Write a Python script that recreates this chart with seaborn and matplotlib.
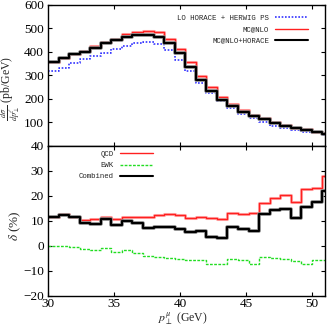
import numpy as np
import pandas as pd
import matplotlib
matplotlib.use('Agg')
import matplotlib.pyplot as plt
import seaborn as sns

# bins of 0.8 GeV starting at 30 GeV
bin_width = 0.8
bin_lo = np.round(30 + bin_width * np.arange(27), 2)

# dsigma/dpT (pb/GeV)
lo_horace = [319, 333, 351, 369, 383, 397, 414, 425, 437, 442, 432, 408, 366, 320,
             269, 226, 191, 160, 135, 118, 101, 86, 77, 67, 58, 53, 46]
mcnlo = [356, 375, 390, 405, 425, 443, 455, 475, 484, 490, 484, 456, 411, 356,
         296, 249, 209, 177, 153, 131, 117, 100, 89, 77, 70, 60, 54]
mcnlo_horace = [356, 374, 390, 401, 418, 439, 449, 463, 472, 472, 462, 437, 394, 337,
                280, 233, 195, 170, 143, 127, 113, 96, 84, 75, 67, 59, 52]

# relative corrections (%)
d_qcd = [11.6, 12.6, 11.6, 10.3, 10.5, 11.6, 10.5, 11.6, 11.3, 11.3, 12.3, 12.7, 12.1, 11.2,
         11.5, 11.1, 10.5, 13.2, 12.7, 13.2, 17.0, 19.0, 20.2, 17.6, 22.7, 23.2, 28.0]
d_ewk = [0.0, -0.1, -0.4, -1.3, -1.6, -1.0, -2.4, -1.9, -2.8, -4.0, -4.7, -5.1, -5.2, -5.7,
         -5.6, -7.5, -7.2, -5.4, -5.9, -7.2, -4.4, -4.9, -5.5, -6.0, -7.2, -5.7, -5.7]
d_comb = [11.6, 12.3, 11.4, 9.2, 8.7, 10.5, 8.3, 9.9, 9.0, 7.1, 7.4, 7.4, 6.8, 5.6,
          6.0, 3.6, 3.2, 7.5, 6.6, 6.0, 12.7, 14.1, 14.5, 11.2, 15.3, 17.6, 22.0]


def steps(vals):
    # histogram outline: edges plus last value repeated
    x = np.append(bin_lo, bin_lo[-1] + bin_width)
    y = np.append(vals, vals[-1])
    return pd.DataFrame({'pt': x, 'val': y})


sns.set_style('ticks')
plt.rcParams['font.family'] = ['Liberation Serif', 'DejaVu Serif']
plt.rcParams['mathtext.fontset'] = 'stix'
plt.rcParams['xtick.direction'] = 'in'
plt.rcParams['ytick.direction'] = 'in'

fig = plt.figure(figsize=(3.27, 3.26), dpi=100)
ax1 = fig.add_axes([0.147, 0.553, 0.847, 0.432])
ax2 = fig.add_axes([0.147, 0.093, 0.847, 0.46])

# top panel
sns.lineplot(data=steps(lo_horace), x='pt', y='val', ax=ax1, drawstyle='steps-post',
             color='#3333ff', lw=1.2, ls=(0, (1, 1)), label='LO HORACE + HERWIG PS')
sns.lineplot(data=steps(mcnlo), x='pt', y='val', ax=ax1, drawstyle='steps-post',
             color='#ffb0b0', lw=2.2, legend=False)
sns.lineplot(data=steps(mcnlo), x='pt', y='val', ax=ax1, drawstyle='steps-post',
             color='#ff2020', lw=1.0, label='MC@NLO')
sns.lineplot(data=steps(mcnlo_horace), x='pt', y='val', ax=ax1, drawstyle='steps-post',
             color='#888888', lw=2.6, legend=False)
sns.lineplot(data=steps(mcnlo_horace), x='pt', y='val', ax=ax1, drawstyle='steps-post',
             color='black', lw=1.5, label='MC@NLO+HORACE')

ax1.set_xlim(30, 51)
ax1.set_ylim(0, 600)
ax1.set_yticks([100, 200, 300, 400, 500, 600])
ax1.set_xticks([35, 40, 45, 50])
ax1.set_xticklabels([])
ax1.set_xlabel('')
ax1.set_ylabel(r'$\frac{d\sigma}{dp_{\perp}^{\ell}}$ (pb/GeV)', fontsize=8.5,
               va='center', ha='center')
ax1.yaxis.set_label_coords(-0.135, 0.41)
ax1.legend(loc='upper right', bbox_to_anchor=(0.95, 0.95), frameon=False, markerfirst=False,
           prop={'family': 'Liberation Mono', 'size': 5.3}, handlelength=4.5,
           labelspacing=0.55, borderaxespad=0, handletextpad=0.8)

# bottom panel
sns.lineplot(data=steps(d_qcd), x='pt', y='val', ax=ax2, drawstyle='steps-post',
             color='#ffb0b0', lw=2.2, legend=False)
sns.lineplot(data=steps(d_qcd), x='pt', y='val', ax=ax2, drawstyle='steps-post',
             color='#ff2020', lw=1.0, label='QCD')
sns.lineplot(data=steps(d_ewk), x='pt', y='val', ax=ax2, drawstyle='steps-post',
             color='#22dd22', lw=1.0, ls=(0, (2, 1)), label='EWK')
sns.lineplot(data=steps(d_comb), x='pt', y='val', ax=ax2, drawstyle='steps-post',
             color='#888888', lw=2.6, legend=False)
sns.lineplot(data=steps(d_comb), x='pt', y='val', ax=ax2, drawstyle='steps-post',
             color='black', lw=1.5, label='Combined')

ax2.set_xlim(30, 51)
ax2.set_ylim(-20, 40)
ax2.set_yticks([-20, -10, 0, 10, 20, 30, 40])
ax2.set_xticks([30, 35, 40, 45, 50])
ax2.set_xlabel(r'$p_{\perp}^{\mu}$ (GeV)', fontsize=8.5, va='center')
ax2.xaxis.set_label_coords(0.485, -0.15)
ax2.set_ylabel(r'$\delta$ (%)', fontsize=9.5, va='center', ha='center')
ax2.yaxis.set_label_coords(-0.12, 0.47)
ax2.legend(loc='upper left', bbox_to_anchor=(0.1, 0.985), frameon=False, markerfirst=False,
           prop={'family': 'Liberation Mono', 'size': 5.3}, handlelength=4.5,
           labelspacing=0.55, borderaxespad=0, handletextpad=0.8)

for ax in (ax1, ax2):
    ax.tick_params(which='both', top=True, right=True, length=3, width=0.8,
                   labelsize=9.5, colors='black', pad=3)
    ax.tick_params(axis='x', pad=2)
    for s in ax.spines.values():
        s.set_visible(True)
        s.set_color('black')
        s.set_linewidth(1.0)

fig.savefig('out.png', dpi=100)
